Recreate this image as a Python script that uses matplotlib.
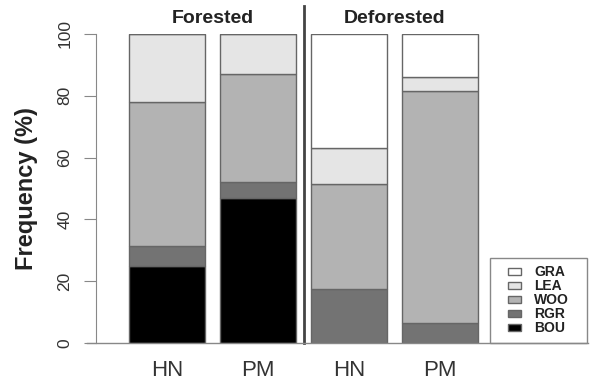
import matplotlib.pyplot as plt
import numpy as np
from matplotlib.patches import Rectangle
from matplotlib.lines import Line2D

plt.rcParams['font.family'] = ['Liberation Sans', 'DejaVu Sans']

# data (percent, stacked bottom -> top)
sites = ['HN', 'PM', 'HN', 'PM']
cats = ['BOU', 'RGR', 'WOO', 'LEA', 'GRA']
BOU = [25, 47, 0, 0]
RGR = [6.5, 5, 17.5, 6.5]
WOO = [46.5, 35, 34, 75]
LEA = [22, 13, 11.5, 4.5]
GRA = [0, 0, 37, 14]
cols = ['#000000', '#737373', '#b3b3b3', '#e5e5e5', '#ffffff']
groups = ['Forested', 'Deforested']

fig = plt.figure(figsize=(5.92, 3.8), dpi=100)
W, H = 592., 380.
ax = fig.add_axes([96/W, 1-343/H, (590-96)/W, (343-34)/H])

x = np.arange(4)
bottom = np.zeros(4)
for vals, c in zip([BOU, RGR, WOO, LEA, GRA], cols):
    ax.bar(x, vals, width=0.835, bottom=bottom, color=c, edgecolor='#666666', linewidth=1)
    bottom = bottom + np.array(vals)

ax.set_xlim(-0.78, 4.648)
ax.set_ylim(0, 100)
for s in ['top', 'right', 'bottom']:
    ax.spines[s].set_visible(False)
ax.spines['left'].set_color('#888888')
ax.spines['left'].set_bounds(0, 100)
ax.set_yticks([0, 20, 40, 60, 80, 100])
ax.tick_params(axis='y', length=9, color='#888888', labelsize=12.5, labelcolor='#333333', rotation=90, pad=8)
for t in ax.get_yticklabels():
    t.set_va('center')
ax.set_xticks(x)
ax.set_xticklabels(sites)
ax.tick_params(axis='x', length=0, labelsize=16, labelcolor='#333333', pad=12)
ax.set_ylabel('Frequency (%)', fontsize=17, fontweight='bold', color='#222222', labelpad=14)

# divider and bottom line
ax.plot([1.5, 1.5], [0, 109], color='#444444', lw=2, clip_on=False)
fig.add_artist(Line2D([87/W, 588/W], [1-343/H, 1-343/H], color='#888888', lw=1))

ax.text(0.5, 105, groups[0], ha='center', va='center', fontsize=14, fontweight='bold', color='#222222')
ax.text(2.5, 105, groups[1], ha='center', va='center', fontsize=14, fontweight='bold', color='#222222')

# legend box drawn by hand
fig.add_artist(Rectangle((490/W, 1-343/H), 97/W, 85/H, facecolor='white', edgecolor='#888888', lw=1))
for i, (c, l) in enumerate(zip(cols[::-1], cats[::-1])):
    yy = 1 - (271.5 + 14*i)/H
    fig.add_artist(Rectangle((508/W, yy - 3.5/H), 13/W, 7/H, facecolor=c, edgecolor='#666666', lw=1))
    fig.text(534/W, yy, l, ha='left', va='center', fontsize=10, fontweight='bold', color='#222222')

fig.savefig('out.png', dpi=100)
